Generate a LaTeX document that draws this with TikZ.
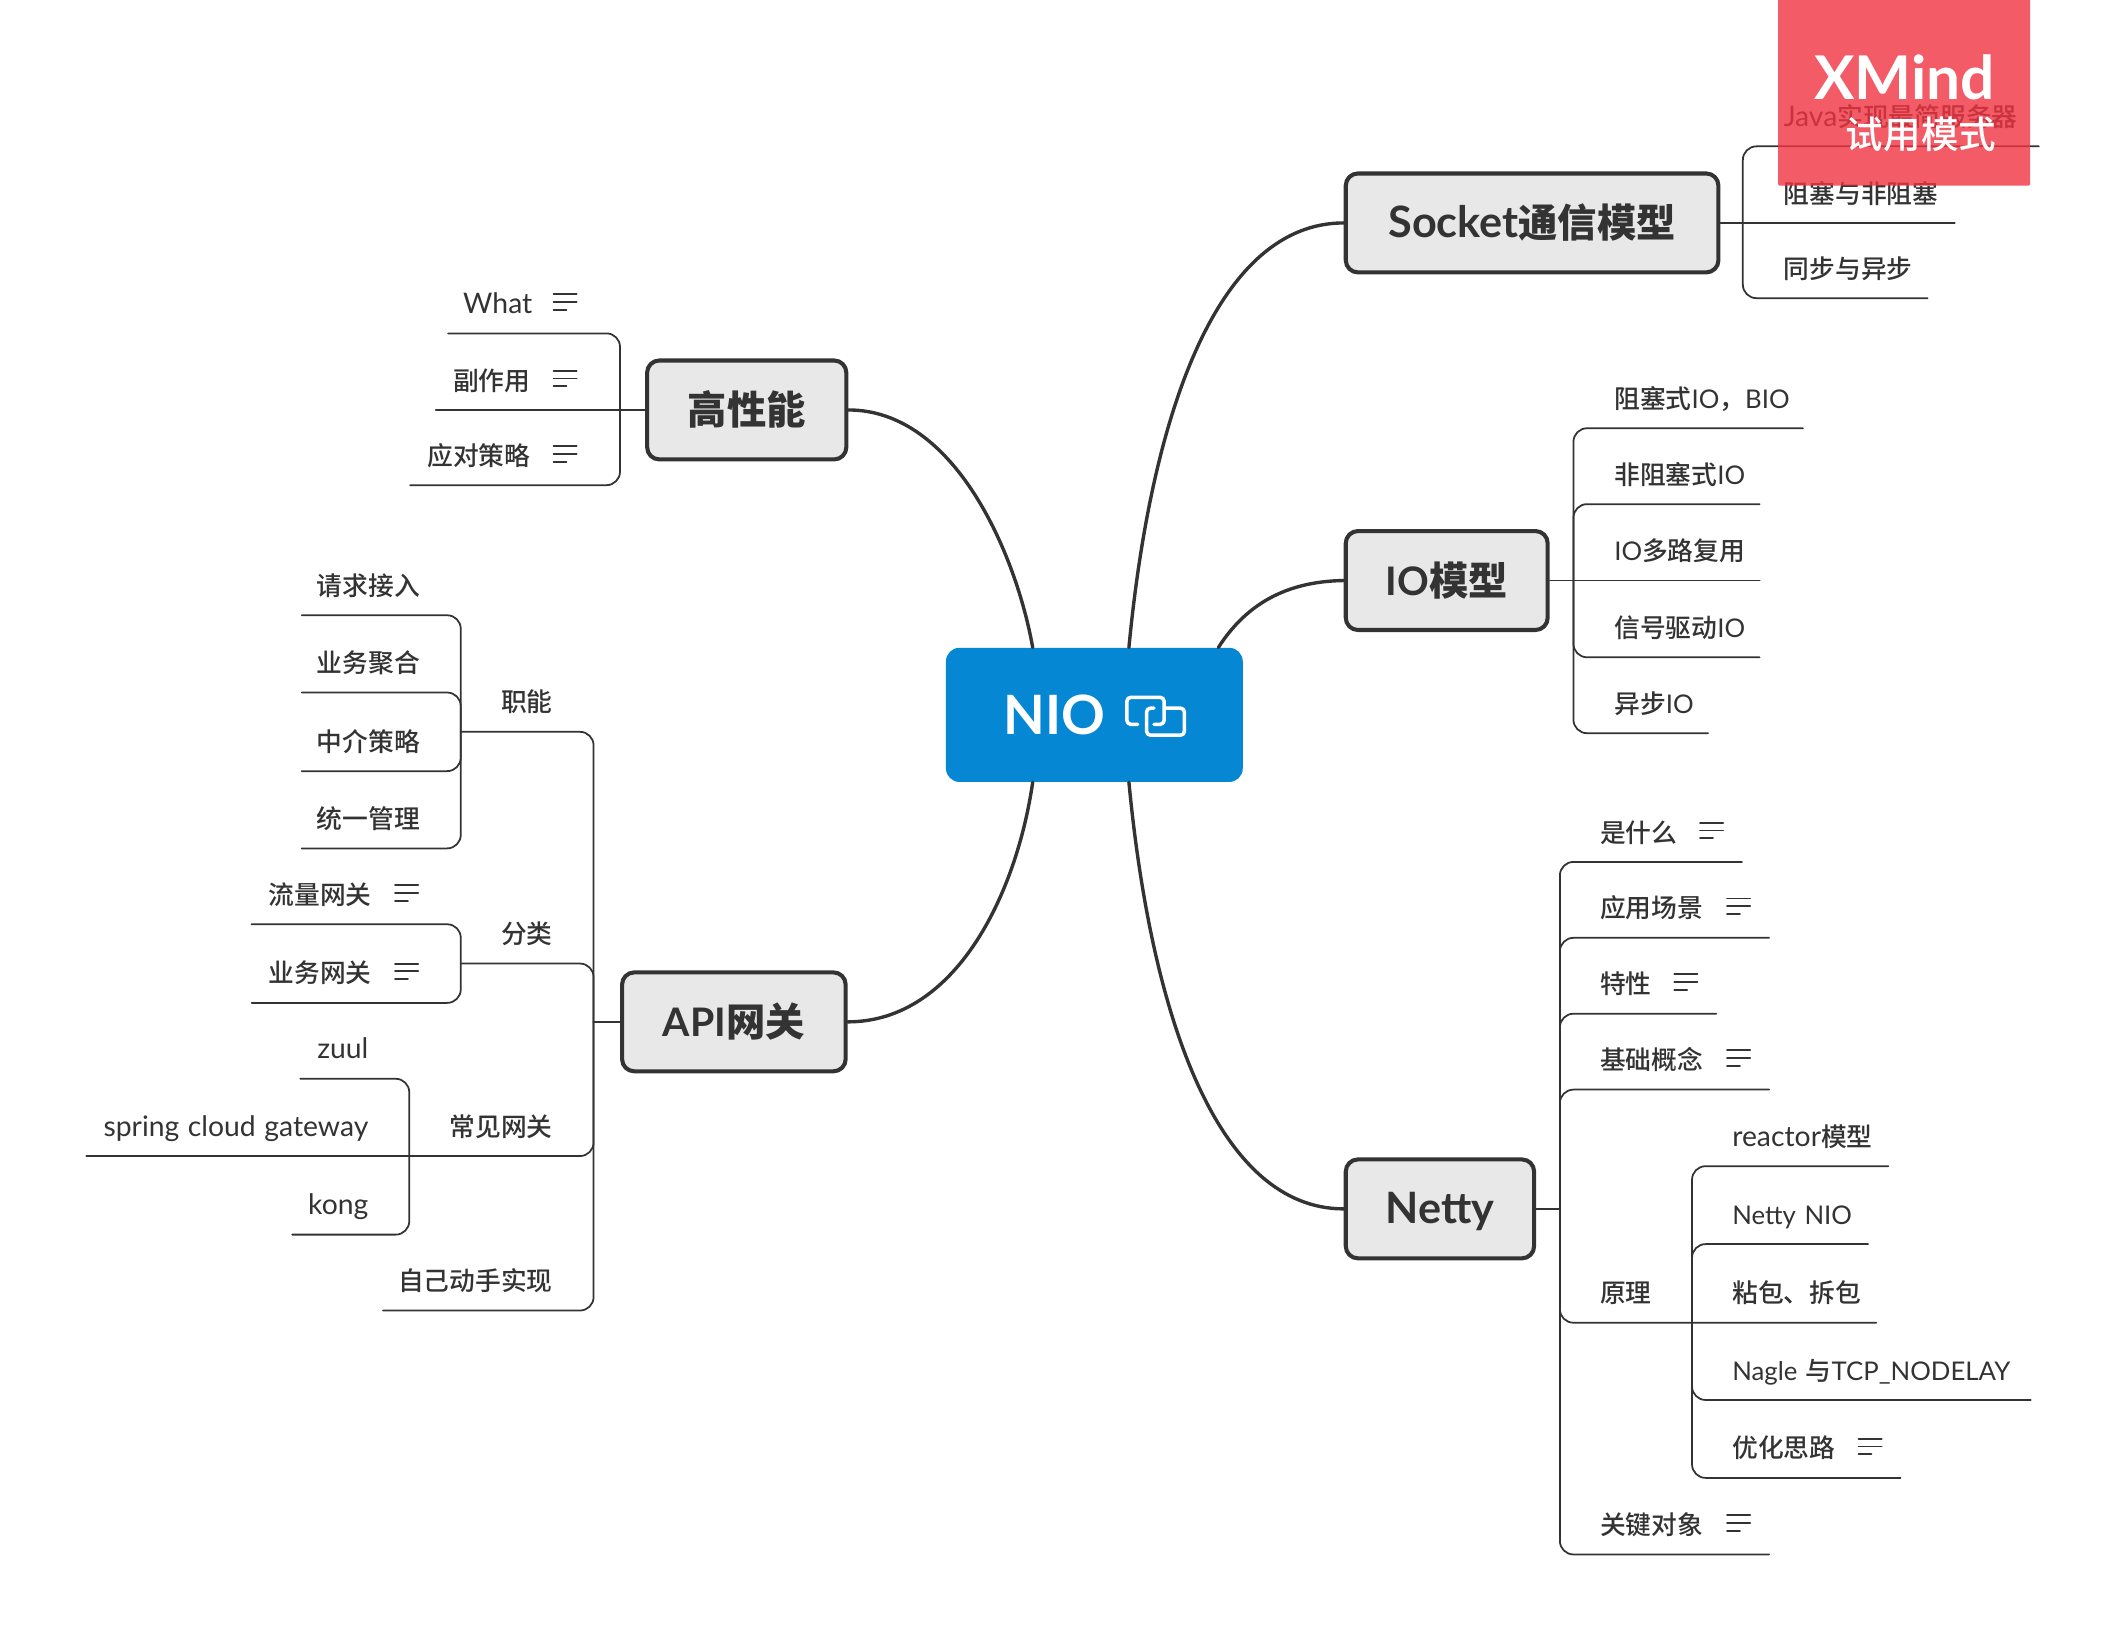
\documentclass[tikz,border=0pt]{standalone}
\usepackage{fontspec}
\setmainfont{Lato}
\newfontfamily\cjk[UprightFont={* Medium}]{Noto Sans CJK SC}
\newfontfamily\wide[Scale=1.1]{Lato}
\newcommand{\zh}[1]{{\cjk #1}}
\newcommand{\en}[1]{{\wide #1}}
\definecolor{ink}{HTML}{333333}
\definecolor{rootblue}{HTML}{0587D4}
\definecolor{boxgray}{HTML}{E8E8E8}
\definecolor{trialred}{RGB}{240,50,64}
\tikzset{
  rootbox/.style={fill=rootblue, text=white, rounded corners=10pt, inner sep=0pt, minimum width=219pt, minimum height=99pt, font=\fontsize{40}{48}\selectfont\bfseries},
  mainbox/.style={draw=ink, fill=boxgray, text=ink, line width=3pt, rounded corners=9pt, inner sep=0pt, minimum height=73pt, text height=26pt, text depth=4pt, font=\fontsize{29}{34}\selectfont\bfseries},
  leafbase/.style={text=ink, inner xsep=11pt, inner ysep=0pt, minimum height=44pt, text height=17.5pt, text depth=2.5pt, font=\fontsize{19}{22}\selectfont},
  rleaf/.style={leafbase, anchor=south west, align=left, text width=#1 pt},
  lleaf/.style={leafbase, anchor=south east, align=right, text width=#1 pt},
  noted/.style={execute at end node={\hspace*{35pt}}},
  link/.style={draw=ink, line width=2.5pt},
  twig/.style={draw=ink, line width=1.3pt, rounded corners=10pt},
  noteicon/.pic={\draw[ink, line width=1.4pt] (-8.5,-6.8)--(8.5,-6.8) (-8.5,-1)--(8.5,-1) (-8.5,4.8)--(1,4.8);},
  chainicon/.pic={
    \draw[white, line width=2.6pt, rounded corners=3pt] (-13,6)--(-21,6)--(-21,-14)--(6.5,-14)--(6.5,6)--(-1,6);
    \draw[white, line width=2.6pt, rounded corners=3pt] (8,-6)--(21.5,-6)--(21.5,14)--(-6.5,14)--(-6.5,-6)--(-1,-6);
  }
}
\begin{document}
\begin{tikzpicture}[x=1pt, y=-1pt, line join=round, line cap=round]
  \useasboundingbox (0,0) rectangle (1568,1212.3);
  % root and main topics
  \node[rootbox] (nio) at (807.5,527.5) {NIO\hspace{59pt}\mbox{}};
  \pic at ([xshift=45pt,yshift=-1pt]nio.center) {chainicon};
  \node[mainbox, minimum width=275pt] (socket) at (1130.5,164.5) {\en{Socket}\zh{通信模型}};
  \node[mainbox, minimum width=149pt] (iomodel) at (1067.5,428.35) {IO\zh{模型}};
  \node[mainbox, minimum width=139pt] (netty) at (1062.5,892) {\en{Netty}};
  \node[mainbox, minimum width=147pt] (perf) at (551,302.5) {\zh{高性能}};
  \node[mainbox, minimum width=165pt] (api) at (541.5,754) {API\zh{网关}};
  \draw[link] ([xshift=25.5pt]nio.north) .. controls (850,300) and (900,164.5) .. (socket.west);
  \draw[link] ([xshift=91.5pt]nio.north) .. controls (920,445) and (950,429) .. (iomodel.west);
  \draw[link] ([xshift=25.5pt]nio.south) .. controls (850,755) and (900,892) .. (netty.west);
  \draw[link] ([xshift=-45.5pt]nio.north) .. controls (750,410) and (705,302.5) .. (perf.east);
  \draw[link] ([xshift=-45.5pt]nio.south) .. controls (750,660) and (705,754) .. (api.east);
  % Socket
  \coordinate (socket-hub) at (1286,164.5);
  \node[rleaf=177] (java) at (1305,108) {\en{Java}\zh{实现最简服务器}};
  \node[rleaf=115] (blocking) at (1305,164.5) {\zh{阻塞与非阻塞}};
  \node[rleaf=95] (sync) at (1305,220) {\zh{同步与异步}};
  \draw[twig] (socket.east)--(socket-hub)--(blocking.south east);
  \foreach \n in {java,sync} \draw[twig] (socket-hub) |- (\n.south east);
  % IO
  \coordinate (io-hub) at (1161,428.35);
  \node[rleaf=128] (bio) at (1180,316) {\zh{阻塞式}IO\zh{，}BIO};
  \node[rleaf=96] (nbio) at (1180,372) {\zh{非阻塞式}IO};
  \node[rleaf=96] (mux) at (1180,428.35) {IO\zh{多路复用}};
  \node[rleaf=96] (signal) at (1180,485) {\zh{信号驱动}IO};
  \node[rleaf=58] (aio) at (1180,541) {\zh{异步}IO};
  \draw[twig] (iomodel.east)--(io-hub)--(mux.south east);
  \foreach \n in {bio,nbio,signal,aio} \draw[twig] (io-hub) |- (\n.south east);
  % Netty
  \coordinate (netty-hub) at (1151,892);
  \node[rleaf=93.5] (nwhat) at (1169.5,636) {\zh{是什么}};
  \node[rleaf=113.5] (scene) at (1169.5,692) {\zh{应用场景}};
  \node[rleaf=74.5] (feature) at (1169.5,748) {\zh{特性}};
  \node[rleaf=113.5] (basic) at (1169.5,804) {\zh{基础概念}};
  \node[rleaf=38] (theory) at (1169.5,976) {\zh{原理}};
  \node[rleaf=113.5] (keyobj) at (1169.5,1147) {\zh{关键对象}};
  \coordinate (theory-hub) at (1248.5,976);
  \node[rleaf=104] (reactor) at (1267,860.5) {\en{reactor}\zh{模型}};
  \node[rleaf=89] (nettynio) at (1267,918) {Netty~NIO};
  \node[rleaf=95] (sticky) at (1267,976) {\zh{粘包、拆包}};
  \node[rleaf=209] (nagle) at (1267,1033) {Nagle~\zh{与}TCP\_NODELAY};
  \node[rleaf=113] (tuning) at (1267,1090.5) {\zh{优化思路}};
  \draw[twig] (netty.east)--(netty-hub);
  \foreach \n in {nwhat,scene,feature,basic,keyobj} \draw[twig] (netty-hub) |- (\n.south east);
  \draw[twig] (netty-hub) |- (theory-hub)--(sticky.south east);
  \foreach \n in {reactor,nettynio,nagle,tuning} \draw[twig] (theory-hub) |- (\n.south east);
  % high performance
  \coordinate (perf-hub) at (457.5,302.5);
  \node[lleaf=84.5, noted] (what) at (437.5,246) {\en{What}};
  \node[lleaf=93.5, noted] (sideeffect) at (437.5,302.5) {\zh{副作用}};
  \node[lleaf=112.5, noted] (tactics) at (437.5,358) {\zh{应对策略}};
  \draw[twig] (perf.west)--(perf-hub)--(sideeffect.south west);
  \foreach \n in {what,tactics} \draw[twig] (perf-hub) |- (\n.south west);
  % API gateway
  \coordinate (api-hub) at (438,754);
  \coordinate (duty-hub) at (340,540);
  \coordinate (kinds-hub) at (340,711);
  \coordinate (common-hub) at (302,853);
  \node[lleaf=40] (duty) at (419,540) {\zh{职能}};
  \node[lleaf=40] (kinds) at (419,711) {\zh{分类}};
  \node[lleaf=76] (common) at (419,853) {\zh{常见网关}};
  \node[lleaf=114] (diy) at (419,967) {\zh{自己动手实现}};
  \node[lleaf=76] (access) at (321,454) {\zh{请求接入}};
  \node[lleaf=76] (merge) at (321,511) {\zh{业务聚合}};
  \node[lleaf=76] (mediate) at (321,569) {\zh{中介策略}};
  \node[lleaf=76] (manage) at (321,626) {\zh{统一管理}};
  \node[lleaf=112.5, noted] (traffic) at (320.5,682) {\zh{流量网关}};
  \node[lleaf=112.5, noted] (business) at (320.5,740) {\zh{业务网关}};
  \node[lleaf=39] (zuul) at (283,796) {\en{zuul}};
  \node[lleaf=197] (spring) at (283,853) {\en{spring~cloud~gateway}};
  \node[lleaf=45] (kong) at (283,911) {\en{kong}};
  \draw[twig] (api.west)--(api-hub);
  \draw[twig] (api-hub) |- (duty-hub);
  \draw[twig] (api-hub) |- (kinds-hub);
  \draw[twig] (api-hub) |- (common-hub)--(spring.south west);
  \draw[twig] (api-hub) |- (diy.south west);
  \foreach \n in {access,merge,mediate,manage} \draw[twig] (duty-hub) |- (\n.south west);
  \foreach \n in {traffic,business} \draw[twig] (kinds-hub) |- (\n.south west);
  \foreach \n in {zuul,kong} \draw[twig] (common-hub) |- (\n.south west);
  % note marks
  \foreach \n in {nwhat,scene,feature,basic,keyobj,tuning}
    \pic at ([xshift=-22.5pt]\n.east) {noteicon};
  \foreach \n in {what,sideeffect,tactics,traffic,business}
    \pic at ([xshift=-20.5pt]\n.east) {noteicon};
  % trial mark
  \fill[trialred, opacity=.8, rounded corners=1pt] (1312,-5) rectangle (1498,137);
  \node[text=white, inner sep=0pt, font=\fontsize{44.5}{50}\selectfont\bfseries] (xmind) at (1405.5,57) {XMind};
  \node[text=white, inner sep=0pt, font=\fontsize{27.7}{32}\selectfont\cjk] (trial) at (1417.5,99) {试用模式};
\end{tikzpicture}
\end{document}
